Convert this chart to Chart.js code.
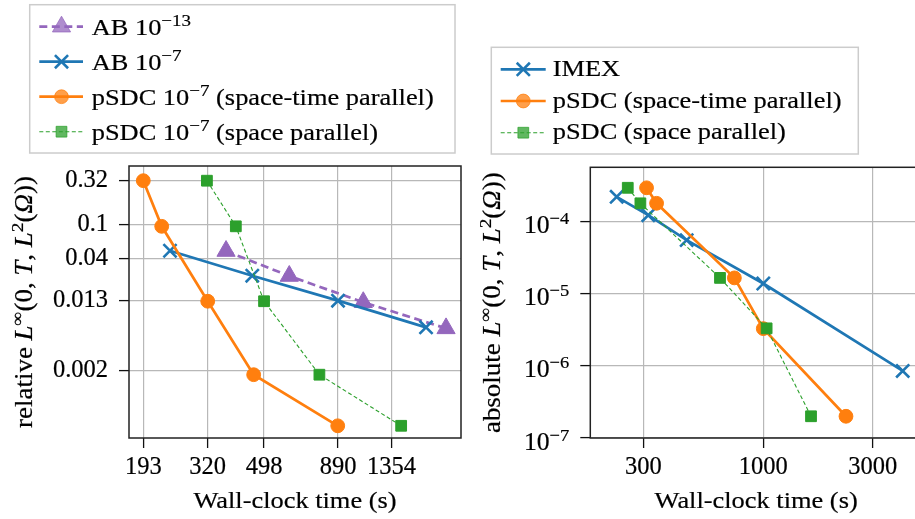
<!DOCTYPE html>
<html><head><meta charset="utf-8">
<script src="https://cdn.jsdelivr.net/npm/chart.js@4.4.0/dist/chart.umd.min.js"></script>
<style>
html,body{margin:0;padding:0;width:915px;height:519px;overflow:hidden;background:#fff;}
canvas{position:absolute;top:0;}
#c1{left:0;} #c2{left:480px;}
</style></head><body>
<canvas id="c1" width="480" height="519"></canvas>
<canvas id="c2" width="460" height="519"></canvas>
<script>
// ---------- data: left panel (relative error) ----------
const leftAB13X = [369.5, 607, 1085, 2078];
const leftAB13Y = [0.0489, 0.0251, 0.01246, 0.0062];
const leftAB7X  = [238, 454, 890, 1776];
const leftAB7Y  = [0.0493, 0.0253, 0.013, 0.00637];
const leftSTX   = [193, 223, 320, 459, 888];
const leftSTY   = [0.32, 0.0946, 0.0128, 0.0018, 0.00046];
const leftSPX   = [318, 399, 498, 769, 1461];
const leftSPY   = [0.32, 0.0946, 0.0128, 0.0018, 0.00046];
const leftXTicks = [193, 320, 498, 890, 1354];
const leftXTickLabels = ['193', '320', '498', '890', '1354'];
const leftYTicks = [0.32, 0.1, 0.04, 0.013, 0.002];
const leftYTickLabels = ['0.32', '0.1', '0.04', '0.013', '0.002'];

// ---------- data: right panel (absolute error) ----------
const rightIMEXX = [229.7, 315.4, 463.6, 1000, 4050];
const rightIMEXY = [2.19e-4, 1.22e-4, 5.5e-5, 1.38e-5, 8.5e-7];
const rightSTX   = [310, 342.8, 748, 1000, 2292];
const rightSTY   = [2.92e-4, 1.78e-4, 1.65e-5, 3.27e-6, 2.0e-7];
const rightSPX   = [256.7, 291.4, 647.6, 1034, 1614];
const rightSPY   = [2.92e-4, 1.78e-4, 1.65e-5, 3.3e-6, 2.0e-7];
const rightXTicks = [300, 1000, 3000];
const rightXTickLabels = ['300', '1000', '3000'];
const rightYTicks = [1e-7, 1e-6, 1e-5, 1e-4];
const rightYTickExp = [-7, -6, -5, -4];

// ---------- styling ----------
const FONT = '"Liberation Serif", "Times New Roman", serif';
const STRETCH = 1.1;
const TEXT_STROKE = 0.2;
const C_BLUE = '#1f77b4', C_ORANGE = '#ff7f0e', C_GREEN = '#2ca02c', C_PURPLE = '#9467bd';

const styles = {
  ab13: {borderColor:C_PURPLE, borderWidth:2.7, borderDash:[8,4.5], pointStyle:'triangle', pointRadius:10.5, pointBorderWidth:1, color:C_PURPLE},
  ab7:  {borderColor:C_BLUE, borderWidth:2.7, borderDash:[], pointStyle:'crossRot', pointRadius:9.3, pointBorderWidth:2.6, color:C_BLUE},
  st:   {borderColor:C_ORANGE, borderWidth:2.7, borderDash:[], pointStyle:'circle', pointRadius:6.9, pointBorderWidth:1, color:C_ORANGE},
  sp:   {borderColor:C_GREEN, borderWidth:1.1, borderDash:[4,2.5], pointStyle:'rect', pointRadius:7.6, pointBorderWidth:1, color:C_GREEN}
};

function pts(xs, ys){ return xs.map((x,i)=>({x:x, y:ys[i]})); }
function ds(label, xs, ys, st, order){
  return {label, data:pts(xs,ys), showLine:true, fill:false, tension:0, order,
    borderColor:st.borderColor, borderWidth:st.borderWidth, borderDash:st.borderDash,
    pointStyle:st.pointStyle, pointRadius:st.pointRadius, pointHoverRadius:st.pointRadius,
    pointBackgroundColor:st.color, pointBorderColor:st.color, pointBorderWidth:st.pointBorderWidth};
}

// ---------- rich text ----------
function segFont(s, size){ return (s.i?'italic ':'') + (s.sup? size*0.72 : size) + 'px ' + FONT; }
function measureRich(ctx, segs, size){ let w=0; for(const s of segs){ ctx.font=segFont(s,size); w+=ctx.measureText(s.t).width; } return w; }
function drawRich(ctx, segs, x, y, size, align, stretch, rot){
  ctx.save();
  ctx.translate(x,y);
  if(rot) ctx.rotate(rot);
  ctx.scale(stretch,1);
  const w = measureRich(ctx, segs, size);
  let cx = align==='center' ? -w/2 : (align==='right' ? -w : 0);
  ctx.fillStyle='#000'; ctx.strokeStyle='#000'; ctx.lineWidth=TEXT_STROKE;
  ctx.textBaseline='alphabetic'; ctx.textAlign='left';
  for(const s of segs){
    ctx.font=segFont(s,size);
    const yy = s.sup ? -size*0.37 : 0;
    ctx.fillText(s.t, cx, yy);
    ctx.strokeText(s.t, cx, yy);
    cx += ctx.measureText(s.t).width;
  }
  ctx.restore();
}

function drawLegend(ctx, box, rows, hx0, hx1, mx, tx, dy){
  ctx.save();
  ctx.fillStyle='rgba(255,255,255,0.8)';
  ctx.fillRect(box[0], box[1], box[2]-box[0], box[3]-box[1]);
  ctx.strokeStyle='#cccccc'; ctx.lineWidth=1.5;
  ctx.strokeRect(box[0], box[1], box[2]-box[0], box[3]-box[1]);
  for(const r of rows){
    const st = r.st;
    ctx.save();
    ctx.strokeStyle=st.borderColor; ctx.lineWidth=st.borderWidth; ctx.setLineDash(st.borderDash);
    ctx.beginPath(); ctx.moveTo(hx0, r.y); ctx.lineTo(hx1, r.y); ctx.stroke();
    ctx.setLineDash([]);
    ctx.globalAlpha = st.pointStyle==='crossRot' ? 1 : 0.75;
    ctx.fillStyle=st.color; ctx.strokeStyle=st.color; ctx.lineWidth=st.pointBorderWidth;
    Chart.helpers.drawPoint(ctx, {pointStyle:st.pointStyle, radius:st.pointRadius, borderWidth:st.pointBorderWidth, rotation:0}, mx, r.y);
    ctx.restore();
    drawRich(ctx, r.text, tx, r.y + dy, 24, 'left', STRETCH, 0);
  }
  ctx.restore();
}

function logScale(min, max, ticks, labels, pad, fitKey, fitVal){
  return {
    type:'logarithmic', min, max, bounds:'data',
    afterBuildTicks: s => { s.ticks = ticks.map(v=>({value:v})); },
    afterFit: s => { s[fitKey] = fitVal; },
    grid:{color:'#b8b8b8', lineWidth:1.2, tickLength:10, tickColor:'#111', tickWidth:1.3, drawTicks:true, drawOnChartArea:true},
    border:{display:false},
    ticks:{autoSkip:false, maxRotation:0, minRotation:0, padding:pad, color:'#000',
      textStrokeColor:'#000', textStrokeWidth:TEXT_STROKE,
      font:{family:FONT, size:24.5},
      callback:(v,i)=> labels ? labels[i] : ''}
  };
}

function spines(chart){
  const a = chart.chartArea, ctx = chart.ctx;
  ctx.save(); ctx.strokeStyle='#222'; ctx.lineWidth=1.5;
  ctx.strokeRect(a.left, a.top, a.right-a.left, a.bottom-a.top);
  ctx.restore();
}

const xTitle = [{t:'Wall-clock time (s)'}];
const leftYTitle = [{t:'relative '},{t:'L',i:1},{t:'∞',sup:1},{t:'(0, '},{t:'T',i:1},{t:', '},{t:'L',i:1},{t:'2',sup:1},{t:'('},{t:'Ω',i:1},{t:'))'}];
const rightYTitle = [{t:'absolute '},{t:'L',i:1},{t:'∞',sup:1},{t:'(0, '},{t:'T',i:1},{t:', '},{t:'L',i:1},{t:'2',sup:1},{t:'('},{t:'Ω',i:1},{t:'))'}];

// ---------- left chart ----------
new Chart(document.getElementById('c1'), {
  type:'scatter',
  data:{datasets:[
    ds('AB 10^-13', leftAB13X, leftAB13Y, styles.ab13, 3),
    ds('AB 10^-7', leftAB7X, leftAB7Y, styles.ab7, 2),
    ds('pSDC 10^-7 (space-time parallel)', leftSTX, leftSTY, styles.st, 1),
    ds('pSDC 10^-7 (space parallel)', leftSPX, leftSPY, styles.sp, 0)
  ]},
  options:{
    responsive:false, animation:false, events:[], devicePixelRatio:1,
    layout:{padding:{left:0, right:19, top:166, bottom:0}},
    scales:{
      x: logScale(172.5, 2337, leftXTicks, leftXTickLabels, 5, 'height', 81),
      y: logScale(3.32e-4, 0.4737, leftYTicks, leftYTickLabels, 11, 'width', 129)
    },
    plugins:{legend:{display:false}, tooltip:{enabled:false}}
  },
  plugins:[{
    id:'decoL',
    afterDatasetsDraw(chart){ spines(chart); },
    afterDraw(chart){
      const ctx = chart.ctx, a = chart.chartArea;
      drawRich(ctx, xTitle, (a.left+a.right)/2, 508, 24, 'center', STRETCH, 0);
      drawRich(ctx, leftYTitle, 32, (a.top+a.bottom)/2, 24.5, 'center', STRETCH, -Math.PI/2);
      drawLegend(ctx, [29.7, 4.7, 455, 153], [
        {y:26.7, st:styles.ab13, text:[{t:'AB 10'},{t:'−13',sup:1}]},
        {y:61.7, st:styles.ab7, text:[{t:'AB 10'},{t:'−7',sup:1}]},
        {y:96.7, st:styles.st, text:[{t:'pSDC 10'},{t:'−7',sup:1},{t:' (space-time parallel)'}]},
        {y:131.7, st:styles.sp, text:[{t:'pSDC 10'},{t:'−7',sup:1},{t:' (space parallel)'}]}
      ], 39.3, 83, 61.5, 91.7, 8.3);
    }
  }]
});

// ---------- right chart ----------
new Chart(document.getElementById('c2'), {
  type:'scatter',
  data:{datasets:[
    ds('IMEX', rightIMEXX, rightIMEXY, styles.ab7, 2),
    ds('pSDC (space-time parallel)', rightSTX, rightSTY, styles.st, 1),
    ds('pSDC (space parallel)', rightSPX, rightSPY, styles.sp, 0)
  ]},
  options:{
    responsive:false, animation:false, events:[], devicePixelRatio:1,
    layout:{padding:{left:0, right:18, top:167.3, bottom:0}},
    scales:{
      x: logScale(176.3, 4914, rightXTicks, rightXTickLabels, 5, 'height', 81),
      y: logScale(1e-7, 5.61e-4, rightYTicks, null, 11, 'width', 110.3)
    },
    plugins:{legend:{display:false}, tooltip:{enabled:false}}
  },
  plugins:[{
    id:'decoR',
    afterDatasetsDraw(chart){ spines(chart); },
    afterDraw(chart){
      const ctx = chart.ctx, a = chart.chartArea, ys = chart.scales.y;
      rightYTicks.forEach((v,i)=>{
        const y = ys.getPixelForValue(v);
        drawRich(ctx, [{t:'10'},{t:'−'+Math.abs(rightYTickExp[i]),sup:1}], a.left-21, y+11.6, 24.5, 'right', 1.05, 0);
      });
      drawRich(ctx, xTitle, (a.left+a.right)/2, 508, 24, 'center', STRETCH, 0);
      drawRich(ctx, rightYTitle, 20, (a.top+a.bottom)/2, 24.5, 'center', STRETCH, -Math.PI/2);
      drawLegend(ctx, [11.3, 47.3, 378.3, 154], [
        {y:69.3, st:styles.ab7, text:[{t:'IMEX'}]},
        {y:101, st:styles.st, text:[{t:'pSDC (space-time parallel)'}]},
        {y:132.7, st:styles.sp, text:[{t:'pSDC (space parallel)'}]}
      ], 20.7, 65.7, 43.3, 72.7, 6.5);
    }
  }]
});
</script>
</body></html>
